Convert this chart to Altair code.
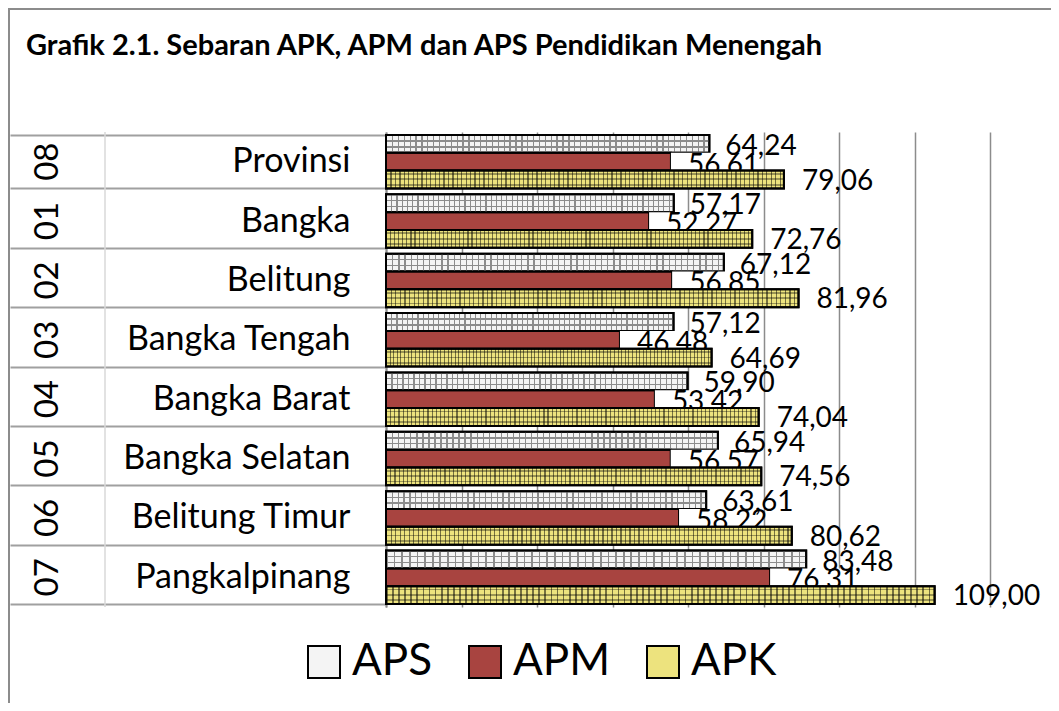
import altair as alt
import pandas as pd

TITLE = "Grafik 2.1. Sebaran APK, APM dan APS Pendidikan Menengah"
regions = ["Provinsi", "Bangka", "Belitung", "Bangka Tengah", "Bangka Barat",
           "Bangka Selatan", "Belitung Timur", "Pangkalpinang"]
codes = ["08", "01", "02", "03", "04", "05", "06", "07"]
series = ["APS", "APM", "APK"]
aps = [64.24, 57.17, 67.12, 57.12, 59.90, 65.94, 63.61, 83.48]
apm = [56.61, 52.27, 56.85, 46.48, 53.42, 56.57, 58.22, 76.31]
apk = [79.06, 72.76, 81.96, 64.69, 74.04, 74.56, 80.62, 109.00]
grid_values = [0, 15, 30, 45, 60, 75, 90, 105, 120]

rows = []
for name, vals in zip(series, [aps, apm, apk]):
    for r, c, v in zip(regions, codes, vals):
        rows.append({"region": r, "code": c, "series": name, "value": v})
df = pd.DataFrame(rows)
codes_df = pd.DataFrame({"region": regions, "code": codes})
one = pd.DataFrame({"a": [0]})

FONT = "Lato"
W, H = 604, 475

def stripes(n, line, frac, horizontal):
    bg = "rgba(255,255,255,0)"
    stops = []
    for i in range(n):
        s = i / n
        e = (i + frac) / n
        stops += [{"offset": s, "color": line}, {"offset": e, "color": line},
                  {"offset": e, "color": bg}, {"offset": (i + 1) / n, "color": bg}]
    g = {"gradient": "linear", "stops": stops, "x1": 0, "y1": 0}
    if horizontal:
        g.update({"x2": 1, "y2": 0})
    else:
        g.update({"x2": 0, "y2": 1})
    return g

def bands(positions, width, line):
    bg = "rgba(255,255,255,0)"
    stops = [{"offset": 0, "color": bg}]
    for p in positions:
        stops += [{"offset": p, "color": bg}, {"offset": p, "color": line},
                  {"offset": p + width, "color": line}, {"offset": p + width, "color": bg}]
    stops.append({"offset": 1, "color": bg})
    return {"gradient": "linear", "stops": stops, "x1": 0, "y1": 0, "x2": 0, "y2": 1}

Y = alt.Y("region:N", sort=regions, title=None,
          scale=alt.Scale(paddingInner=0.1, paddingOuter=0.05),
          axis=alt.Axis(tickBand="extent", tickSize=376, tickColor="#A0A0A0", tickWidth=2,
                        domainColor="#8C8C8C", domainWidth=2, labelFont=FONT, labelFontSize=34,
                        labelColor="black", labelPadding=-340, labelAlign="right",
                        labelBaseline="middle", labelLimit=0))
YO = alt.YOffset("series:N", sort=series, scale=alt.Scale(paddingInner=0, paddingOuter=0))
X = alt.X("value:Q", title=None, scale=alt.Scale(domain=[0, 120], nice=False, zero=True),
          axis=alt.Axis(values=grid_values, grid=True, gridColor="#8C8C8C", gridWidth=1.5,
                        labels=False, ticks=False, domain=False))
COLOR = alt.Color("series:N", title=None,
                  scale=alt.Scale(domain=series, range=["#F4F4F4", "#A84440", "#EDE37E"]),
                  legend=alt.Legend(orient="none", legendX=-84, legendY=508, direction="horizontal",
                                    symbolType="square", symbolSize=1024, symbolStrokeColor="black",
                                    symbolStrokeWidth=2, symbolOpacity=1, labelFont=FONT,
                                    labelFontSize=44, labelColor="black", labelOffset=6,
                                    columnPadding=30, padding=0))

base = alt.Chart(df).transform_calculate(
    label="replace(format(datum.value, '.2f'), '.', ',')",
    box_end="datum.value + 15.5")

bars_a = base.transform_filter("datum.series != 'APK'").mark_bar(
    stroke="black", strokeWidth=2).encode(x=X, y=Y, yOffset=YO, color=COLOR)
aps_h = base.transform_filter("datum.series == 'APS'").mark_bar(
    fill=bands([0.30, 0.63], 0.08, "#8C8C8C")).encode(x=X, y=Y, yOffset=YO)
aps_v = base.transform_filter("datum.series == 'APS'").mark_bar(
    fill=stripes(55, "#8C8C8C", 0.22, True)).encode(x=X, y=Y, yOffset=YO)
aps_o = base.transform_filter("datum.series == 'APS'").mark_bar(
    fillOpacity=0, stroke="black", strokeWidth=2).encode(x=X, y=Y, yOffset=YO)

apm_box = base.transform_filter("datum.series == 'APM'").mark_rect(fill="white").encode(
    x=X, x2="box_end:Q", y=Y, yOffset=YO)
apm_txt = base.transform_filter("datum.series == 'APM'").mark_text(
    align="left", baseline="middle", dx=17, dy=4, font=FONT, fontSize=28, color="black").encode(
    x=X, y=Y, yOffset=YO, text="label:N")

bars_b = base.transform_filter("datum.series == 'APK'").mark_bar(
    stroke="black", strokeWidth=2).encode(x=X, y=Y, yOffset=YO, color=COLOR)
apk_v = base.transform_filter("datum.series == 'APK'").mark_bar(
    fill=stripes(90, "rgba(0,0,0,0.5)", 0.28, True)).encode(x=X, y=Y, yOffset=YO)
apk_h = base.transform_filter("datum.series == 'APK'").mark_bar(
    fill=bands([0.14, 0.44, 0.74], 0.1, "rgba(0,0,0,0.35)")).encode(x=X, y=Y, yOffset=YO)
apk_o = base.transform_filter("datum.series == 'APK'").mark_bar(
    fillOpacity=0, stroke="black", strokeWidth=2).encode(x=X, y=Y, yOffset=YO)

aps_txt = base.transform_filter("datum.series == 'APS'").mark_text(
    align="left", baseline="middle", dx=16, dy=3, font=FONT, fontSize=28, color="black").encode(
    x=X, y=Y, yOffset=YO, text="label:N")
apk_txt = base.transform_filter("datum.series == 'APK'").mark_text(
    align="left", baseline="middle", dx=18, dy=2, font=FONT, fontSize=28, color="black").encode(
    x=X, y=Y, yOffset=YO, text="label:N")

code_txt = alt.Chart(codes_df).mark_text(
    angle=270, align="center", baseline="middle", font=FONT, fontSize=33, color="black").encode(
    x=alt.value(-338), y=Y, text="code:N")

divider = alt.Chart(one).mark_rule(color="#D9D9D9", strokeWidth=1.5).encode(
    x=alt.value(-281), y=alt.value(0), y2=alt.value(H))
left_border = alt.Chart(one).mark_rule(color="#8C8C8C", strokeWidth=2).encode(
    x=alt.value(-377), y=alt.value(-124), y2=alt.value(H + 100))
top_border = alt.Chart(one).mark_rule(color="#8C8C8C", strokeWidth=2).encode(
    x=alt.value(-377), x2=alt.value(W + 70), y=alt.value(-123))
title_txt = alt.Chart(pd.DataFrame({"t": [TITLE]})).mark_text(
    align="left", baseline="alphabetic", font=FONT, fontSize=29, fontWeight="bold",
    color="black").encode(x=alt.value(-360), y=alt.value(-77), text="t:N")

chart = alt.layer(
    bars_a, aps_h, aps_v, aps_o, apm_box, apm_txt, bars_b, apk_v, apk_h, apk_o,
    aps_txt, apk_txt, code_txt, divider, left_border, top_border, title_txt
).properties(
    width=W, height=H,
    autosize=alt.AutoSizeParams(type="none"),
    padding={"left": 378, "top": 124, "right": 61, "bottom": 96},
    background="white"
).configure_view(stroke=None)

chart.save("out.html", embed_options={"renderer": "svg", "actions": False})
